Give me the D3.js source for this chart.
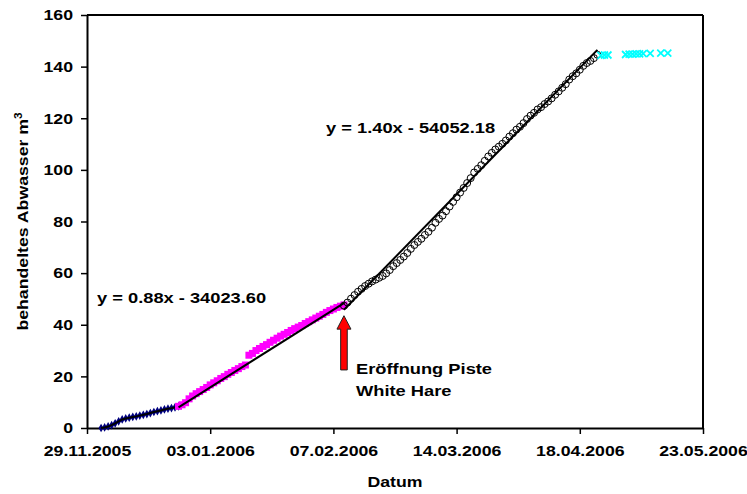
<!DOCTYPE html>
<html>
<head>
<meta charset="utf-8">
<script src="https://cdn.jsdelivr.net/npm/d3@7"></script>
<style>
  body { margin: 0; background: #fff; }
  text { font-family: Arial, "Liberation Sans", sans-serif; font-weight: bold; fill: #000; }
</style>
</head>
<body>
<script>
// values
var xTickDates = ["2005-11-29", "2006-01-03", "2006-02-07", "2006-03-14", "2006-04-18", "2006-05-23"];
var yTicks = [0, 20, 40, 60, 80, 100, 120, 140, 160];

// navy series, one value per day from navyStart
var navyStart = "2005-12-03";
var navyValues = [0, 0.2, 0.6, 1.1, 1.8, 2.6, 3.3, 3.7, 4.0, 4.3, 4.5, 4.8, 5.1, 5.4, 5.8, 6.2,
  6.5, 6.8, 7.2, 7.5, 7.7, 8.0, 8.4];

// magenta series, one value per day from magentaStart
var magentaStart = "2005-12-25";
var magentaValues = [8.4, 9.0, 9.8, 11.3, 12.4, 13.3, 14.1, 14.9, 15.7, 16.7, 17.5, 18.3, 19.2,
  19.9, 20.8, 21.5, 22.3, 23.0, 23.8, 24.4, 28.2, 28.9, 30.0, 30.8, 31.6, 32.3, 33.2, 34.0,
  34.8, 35.6, 36.3, 37.0, 37.8, 38.5, 39.1, 39.7, 40.5, 41.2, 41.9, 42.6, 43.3, 44.0, 44.8,
  45.5, 46.1, 46.7, 47.2, 47.7];

// open circle series, one value per day from circleStart
var circleStart = "2006-02-10";
var circleValues = [47.4, 48.6, 50.1, 51.5, 52.8, 53.9, 55.0, 55.9, 56.8, 57.5, 58.2, 58.9,
  59.9, 61.2, 62.7, 63.9, 65.1, 66.4, 67.8, 69.4, 70.9, 72.1, 73.3, 74.8, 76.0, 77.6, 79.5,
  81.0, 82.3, 84.0, 85.8, 87.6, 89.4, 91.2, 93.0, 94.9, 96.8, 99.0, 100.4, 101.8, 103.5,
  105.2, 106.6, 107.9, 109.0, 110.1, 111.4, 112.9, 114.2, 115.6, 116.7, 118.1, 119.7, 121.0,
  122.1, 123.4, 124.3, 125.5, 126.5, 127.7, 129.1, 130.4, 131.8, 133.2, 135.0, 136.3, 137.4,
  138.8, 140.3, 141.4, 142.2, 143.3, 144.6];

// cyan series
var cyanDates = ["2006-04-24", "2006-04-25", "2006-04-26", "2006-05-01", "2006-05-02", "2006-05-03",
  "2006-05-04", "2006-05-05", "2006-05-06", "2006-05-08", "2006-05-11", "2006-05-13"];
var cyanValues = [144.4, 144.5, 144.5, 144.7, 144.8, 144.8, 144.9, 144.9, 145.0, 145.1, 145.2, 145.2];

// trend lines (end points)
var fit1Dates = ["2005-12-25", "2006-02-10"];
var fit1Values = [8.0, 48.4];
var fit2Dates = ["2006-02-10", "2006-04-23"];
var fit2Values = [45.8, 146.5];

// arrow "Eröffnung Piste White Hare"
var arrowDate = "2006-02-10";
var arrowTip = 43.5;
var arrowHead = 38.3;
var arrowTail = 22.5;

var svgWidth = 747;
var svgHeight = 494;
var margin = { top: 15, right: 44, bottom: 66, left: 87 };
var width = svgWidth - margin.left - margin.right;
var height = svgHeight - margin.top - margin.bottom;
var stretch = 1.18; // the original text is a bit wider than Arial

var parse = d3.utcParse("%Y-%m-%d");
var fmt = d3.utcFormat("%d.%m.%Y");

function daily(start, values) {
  var t0 = parse(start);
  return values.map(function(v, i) { return { date: d3.utcDay.offset(t0, i), value: v }; });
}
function pairs(dates, values) {
  return dates.map(function(d, i) { return { date: parse(d), value: values[i] }; });
}

var navyData = daily(navyStart, navyValues);
var magentaData = daily(magentaStart, magentaValues);
var circleData = daily(circleStart, circleValues);
var cyanData = pairs(cyanDates, cyanValues);
var fit1 = pairs(fit1Dates, fit1Values);
var fit2 = pairs(fit2Dates, fit2Values);

var svg = d3.select("body").append("svg")
  .attr("width", svgWidth)
  .attr("height", svgHeight);

var chartGroup = svg.append("g")
  .attr("transform", `translate(${margin.left}, ${margin.top})`);

var x = d3.scaleUtc()
  .domain([parse(xTickDates[0]), parse(xTickDates[xTickDates.length - 1])])
  .range([0, width]);

var y = d3.scaleLinear()
  .domain([0, 160])
  .range([height, 0]);

// axes
var bottomAxis = d3.axisBottom(x)
  .tickValues(xTickDates.map(parse))
  .tickFormat(fmt)
  .tickSizeInner(6)
  .tickSizeOuter(0);

var leftAxis = d3.axisLeft(y)
  .tickValues(yTicks)
  .tickSizeInner(6)
  .tickSizeOuter(0);

var xAxis = chartGroup.append("g")
  .attr("transform", `translate(0, ${height})`)
  .call(bottomAxis);

var yAxis = chartGroup.append("g")
  .call(leftAxis);

[xAxis, yAxis].forEach(function(a) {
  a.select(".domain").attr("stroke", "#000").attr("stroke-width", 2);
  a.selectAll(".tick line").attr("stroke", "#000").attr("stroke-width", 1.5);
  a.selectAll(".tick text")
    .attr("font-family", "Arial, 'Liberation Sans', sans-serif")
    .attr("font-weight", "bold")
    .attr("font-size", 15)
    .attr("fill", "#000");
});

xAxis.selectAll(".tick text")
  .attr("y", 17)
  .attr("transform", `scale(${stretch},1)`);

yAxis.selectAll(".tick text")
  .attr("x", -14 / stretch)
  .attr("transform", `scale(${stretch},1)`);

// top and right frame
chartGroup.append("line")
  .attr("x1", 0).attr("x2", width).attr("y1", 0).attr("y2", 0)
  .attr("stroke", "#000").attr("stroke-width", 2);
chartGroup.append("line")
  .attr("x1", width).attr("x2", width).attr("y1", 0).attr("y2", height)
  .attr("stroke", "#000").attr("stroke-width", 2);

var line = d3.line()
  .x(d => x(d.date))
  .y(d => y(d.value));

// navy series
chartGroup.selectAll(".navy")
  .data(navyData)
  .enter()
  .append("path")
  .classed("navy", true)
  .attr("transform", d => `translate(${x(d.date)}, ${y(d.value)})`)
  .attr("d", d3.symbol(d3.symbolDiamond, 22)())
  .attr("fill", "#000080");

chartGroup.append("path")
  .datum(navyData)
  .attr("d", line)
  .attr("fill", "none")
  .attr("stroke", "#000")
  .attr("stroke-width", 2);

// magenta series
chartGroup.selectAll(".magenta")
  .data(magentaData)
  .enter()
  .append("rect")
  .classed("magenta", true)
  .attr("x", d => x(d.date) - 3.5)
  .attr("y", d => y(d.value) - 3.5)
  .attr("width", 7)
  .attr("height", 7)
  .attr("fill", "#ff00ff");

chartGroup.append("path")
  .datum(fit1)
  .attr("d", line)
  .attr("fill", "none")
  .attr("stroke", "#000")
  .attr("stroke-width", 2);

// open circles
chartGroup.selectAll(".circ")
  .data(circleData)
  .enter()
  .append("circle")
  .classed("circ", true)
  .attr("cx", d => x(d.date))
  .attr("cy", d => y(d.value))
  .attr("r", 3.5)
  .attr("fill", "none")
  .attr("stroke", "#000")
  .attr("stroke-width", 1);

chartGroup.append("path")
  .datum(fit2)
  .attr("d", line)
  .attr("fill", "none")
  .attr("stroke", "#000")
  .attr("stroke-width", 2);

// cyan crosses
chartGroup.selectAll(".cyan")
  .data(cyanData)
  .enter()
  .append("path")
  .classed("cyan", true)
  .attr("transform", d => `translate(${x(d.date)}, ${y(d.value)})`)
  .attr("d", "M-3.5,-3.5L3.5,3.5M-3.5,3.5L3.5,-3.5")
  .attr("stroke", "#00ffff")
  .attr("stroke-width", 1.8)
  .attr("fill", "none");

// arrow
var ax = x(parse(arrowDate));
var arrowPts = [
  [ax, y(arrowTip)],
  [ax + 7, y(arrowHead)],
  [ax + 3.3, y(arrowHead)],
  [ax + 3.3, y(arrowTail)],
  [ax - 3.3, y(arrowTail)],
  [ax - 3.3, y(arrowHead)],
  [ax - 7, y(arrowHead)]
];
chartGroup.append("polygon")
  .attr("points", arrowPts.map(p => p.join(",")).join(" "))
  .attr("fill", "#ff0000")
  .attr("stroke", "#222")
  .attr("stroke-width", 1);

// labels
function label(px, py, txt, size, anchor) {
  return svg.append("text")
    .attr("transform", `translate(${px}, ${py}) scale(${stretch},1)`)
    .attr("text-anchor", anchor || "start")
    .attr("font-size", size)
    .text(txt);
}

label(97, 303, "y = 0.88x - 34023.60", 15.5);
label(326, 133, "y = 1.40x - 54052.18", 15.5);
label(356, 374, "Eröffnung Piste", 15.5);
label(356, 396, "White Hare", 15.5);
label(margin.left + width / 2, 487, "Datum", 15, "middle");

var yTitle = svg.append("text")
  .attr("transform", `translate(28, ${margin.top + height / 2}) rotate(-90) scale(${stretch},1)`)
  .attr("text-anchor", "middle")
  .attr("font-size", 15);
yTitle.append("tspan").text("behandeltes Abwasser m");
yTitle.append("tspan").attr("dy", -6).attr("font-size", 10).text("3");
</script>
</body>
</html>
